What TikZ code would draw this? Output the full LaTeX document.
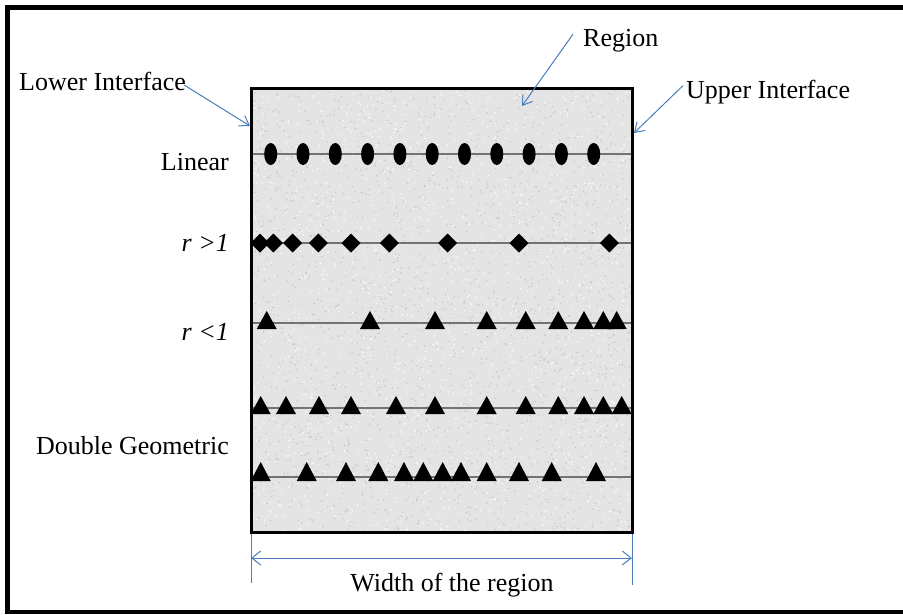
\documentclass[tikz,border=0pt]{standalone}
\usepackage{fontspec}
\setmainfont{Liberation Serif}
\usetikzlibrary{arrows.meta}

\definecolor{callout}{RGB}{74,126,187}
\definecolor{slab}{RGB}{228,228,228}
\definecolor{speckdark}{RGB}{198,198,198}
\definecolor{gridline}{RGB}{115,115,115}

\begin{document}
\begin{tikzpicture}[x=1pt,y=-1pt,
  lbl/.style={font=\fontsize{26}{31}\selectfont, inner sep=0pt},
  callarrow/.style={draw=callout, line width=1pt, -{Straight Barb[length=9pt,width=12pt]}},
  dimline/.style={draw=callout, line width=1pt},
  rowline/.style={draw=gridline, line width=1.5pt},
  marker/.style={fill=black},
  frameline/.style={line width=4.5pt}
]
\useasboundingbox (0,0) rectangle (903,614);

% outer frame (open on the right)
\draw[frameline] (912,7.5) -- (7.5,7.5) -- (7.5,612) -- (912,612);

% the region slab with a speckled fill
\coordinate (slabNW) at (251,88);
\coordinate (slabSE) at (632,532);
\fill[slab] (slabNW) rectangle (slabSE);
\pgfmathsetseed{4711}
\foreach \i in {1,...,2000} {
  \pgfmathsetmacro\px{252+379*rnd}
  \pgfmathsetmacro\py{89+442*rnd}
  \fill[speckdark] (\px,\py) circle[radius=0.8];
}
\foreach \i in {1,...,1400} {
  \pgfmathsetmacro\px{252+379*rnd}
  \pgfmathsetmacro\py{89+442*rnd}
  \fill[white] (\px,\py) circle[radius=0.8];
}

% row guide lines
\foreach \y in {154,243,323,408,477}
  \draw[rowline] (251,\y) -- (632,\y);

% linear spacing: ellipses
\foreach \x in {270.7,303,335.3,367.6,399.9,432.2,464.5,496.8,529.1,561.4,593.7}
  \fill[marker] (\x,154) ellipse[x radius=6.5, y radius=11];

% r > 1: diamonds
\foreach \x in {260,273.3,292.7,318.3,351,389.3,447.7,519,609.3}
  \fill[marker] (\x-9.5,243) -- (\x,233.5) -- (\x+9.5,243) -- (\x,252.5) -- cycle;

% r < 1: triangles
\foreach \x in {266.7,370,435,486.7,525.7,558.3,584,603.3,616.7}
  \fill[marker] (\x-10,329) -- (\x,311) -- (\x+10,329) -- cycle;

% double geometric, first row
\foreach \x in {260.7,286,319,351,396,435,486.7,525.7,558.3,584,603.3,621.7}
  \fill[marker] (\x-10,414) -- (\x,396) -- (\x+10,414) -- cycle;

% double geometric, second row
\foreach \x in {260.7,306.7,346,378.3,404,423.3,442.7,461,486.7,519,551.7,596}
  \fill[marker] (\x-10,481) -- (\x,462) -- (\x+10,481) -- cycle;

% slab border on top of the fill
\draw[line width=3pt] (slabNW) rectangle (slabSE);

% row labels
\node[lbl, anchor=base east] (linear) at (229,170) {Linear};
\node[lbl, anchor=base east] (rgt) at (229,251) {\textit{r >1}};
\node[lbl, anchor=base east] (rlt) at (229,340) {\textit{r <1}};
\node[lbl, anchor=base east] (dgeo) at (229,454) {Double Geometric};

% callouts
\node[lbl, anchor=base west] (region) at (583,46) {Region};
\node[lbl, anchor=base west] (lower) at (19,90) {Lower Interface};
\node[lbl, anchor=base west] (upper) at (686,98) {Upper Interface};

\coordinate (regionTip) at (522,106);
\coordinate (lowerTip) at (250,126);
\coordinate (upperTip) at (634,133);
\draw[callarrow] (region.west) ++(-10,-6) -- (regionTip);
\draw[callarrow] (lower.east) ++(-2,4) -- (lowerTip);
\draw[callarrow] (upper.west) ++(-3,-6) -- (upperTip);

% width dimension
\coordinate (dimL) at (251,534);
\coordinate (dimR) at (632,534);
\coordinate (dimLend) at (251,583);
\coordinate (dimRend) at (632,585);
\draw[dimline] (dimL) -- (dimLend);
\draw[dimline] (dimR) -- (dimRend);
\coordinate (arrL) at (251,558);
\coordinate (arrR) at (632,558);
\draw[dimline, {Straight Barb[length=9pt,width=14pt]}-{Straight Barb[length=9pt,width=14pt]}] (arrL) -- (arrR);
\node[lbl, anchor=base] (width) at (452,591) {Width of the region};
\end{tikzpicture}
\end{document}
